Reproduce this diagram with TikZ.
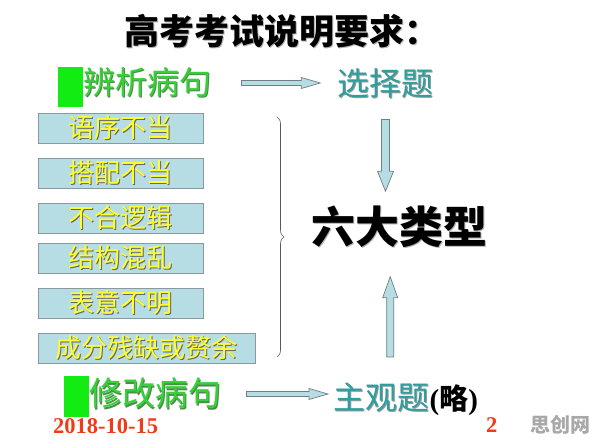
\documentclass[tikz,border=0pt]{standalone}
\usepackage{fontspec}
\setmainfont{Liberation Serif}
\newfontfamily\cjk{Noto Sans CJK SC}
\usetikzlibrary{calc,decorations.pathreplacing}

\definecolor{boxfill}{HTML}{B7DDE4}
\definecolor{boxedge}{HTML}{8A999D}
\definecolor{arrowedge}{HTML}{6F7F82}
\definecolor{sqgreen}{HTML}{12EC12}
\definecolor{leadgreen}{HTML}{38D038}
\definecolor{qteal}{HTML}{2F9E9E}
\definecolor{boxyellow}{HTML}{FFFF2E}
\definecolor{datered}{HTML}{EE3B18}
\definecolor{markgray}{HTML}{A8A8A8}

\newcommand{\fsz}[1]{\fontsize{#1}{#1}\selectfont}
\newcommand{\shtxt}[2]{\makebox[0pt][l]{\kern1.2pt\raisebox{-1.2pt}{\color{#1}#2}}#2}

\tikzset{
  ba shaft/.store in=\bashaft, ba head/.store in=\bahead, ba len/.store in=\balen,
  ba gap s/.store in=\bagaps, ba gap t/.store in=\bagapt,
  ba shaft=2.5pt, ba head=5.5pt, ba len=19pt, ba gap s=0pt, ba gap t=0pt,
  blockarrow/.style={draw=arrowedge, fill=boxfill, line width=0.7pt, to path={
    ($(\tikztostart)!\bagaps!(\tikztotarget)!\bashaft!90:(\tikztotarget)$)
    -- ($(\tikztotarget)!\bagapt!(\tikztostart)!\balen!(\tikztostart)!\bashaft!90:(\tikztotarget)$)
    -- ($(\tikztotarget)!\bagapt!(\tikztostart)!\balen!(\tikztostart)!\bahead!90:(\tikztotarget)$)
    -- ($(\tikztotarget)!\bagapt!(\tikztostart)$)
    -- ($(\tikztotarget)!\bagapt!(\tikztostart)!\balen!(\tikztostart)!\bahead!-90:(\tikztotarget)$)
    -- ($(\tikztotarget)!\bagapt!(\tikztostart)!\balen!(\tikztostart)!\bashaft!-90:(\tikztotarget)$)
    -- ($(\tikztostart)!\bagaps!(\tikztotarget)!\bashaft!-90:(\tikztotarget)$)
    -- cycle}},
  gsq/.style={fill=sqgreen, minimum width=25, minimum height=40, inner sep=0},
  kbox/.style={draw=boxedge, fill=boxfill, minimum width=165, minimum height=30,
    inner sep=0, text=boxyellow, font=\cjk\fsz{26pt}},
  lead/.style={inner sep=0, text=leadgreen, font=\cjk\fsz{32pt}},
  kind/.style={inner sep=0, text=qteal, font=\cjk\fsz{32pt}},
}

\begin{document}
\begin{tikzpicture}[x=1pt,y=1pt]
\useasboundingbox (0,0) rectangle (596,-446);
\node [inner sep=0, font=\cjk\fsz{35pt}\bfseries] (title) at (282,-32) {\shtxt{black!30}{高考考试说明要求：}};
\node [gsq] (gsq1) at (70.5,-87) {};
\node [lead, anchor=west] (bx) at (83,-83) {\shtxt{green!35!black!70}{辨析病句}};
\node [kind] (xz) at (385.5,-84) {\shtxt{black!40}{选择题}};
\node [inner sep=0, font=\cjk\fsz{44pt}\bfseries] (lx) at (399,-227) {\shtxt{black!30}{六大类型}};
% six kinds
\node [kbox] (b1) at (120.5,-128) {\shtxt{black!60}{语序不当}};
\node [kbox] (b2) at (120.5,-173) {\shtxt{black!60}{搭配不当}};
\node [kbox] (b3) at (120.5,-218) {\shtxt{black!60}{不合逻辑}};
\node [kbox] (b4) at (120.5,-258) {\shtxt{black!60}{结构混乱}};
\node [kbox] (b5) at (120.5,-303) {\shtxt{black!60}{表意不明}};
\node [kbox, minimum width=217] (b6) at (146.5,-348) {\shtxt{black!60}{成分残缺或赘余}};
\draw [black!65, line width=0.6pt, decorate, decoration={brace, amplitude=7pt}] (277,-117) -- (277,-357);
\node [gsq, minimum height=41] (gsq2) at (76.5,-396.5) {};
\node [lead, anchor=west, font=\cjk\fsz{33pt}] (xg) at (89,-394) {\shtxt{green!35!black!70}{修改病句}};
\node [kind, anchor=west] (zg) at (333,-397.5) {\shtxt{black!40}{主观题}};
\node [inner sep=0, anchor=base west, font=\bfseries\fsz{29pt}] (lue) at (zg.base east) {({\cjk\bfseries 略})};
% arrows
\draw [blockarrow, ba gap s=30pt, ba gap t=17pt] (bx.east) to (bx.east -| xz.west);
\draw [blockarrow, ba shaft=4pt, ba head=8pt, ba len=20pt, ba gap s=20pt, ba gap t=14pt] (xz.south) to (xz.south |- lx.north);
\draw [blockarrow, ba shaft=3.5pt, ba head=7.5pt, ba len=21pt, ba gap s=25pt, ba gap t=28pt] ($(zg.north)+(9,0)$) to ($(zg.north |- lx.south)+(9,0)$);
\draw [blockarrow, ba gap s=25pt, ba gap t=5pt] (xg.east) to (xg.east -| zg.west);
% footer
\node [inner sep=0, anchor=base west, text=datered, font=\bfseries\fsz{22.5pt}] (date) at (53,-433) {2018-10-15};
\node [inner sep=0, anchor=base west, text=datered, font=\bfseries\fsz{22.5pt}] (pg) at (486,-432) {2};
\node [inner sep=0, anchor=base west, text=markgray, font=\cjk\bfseries\fsz{20pt}] (mark) at (530,-432) {思创网};
\end{tikzpicture}
\end{document}
